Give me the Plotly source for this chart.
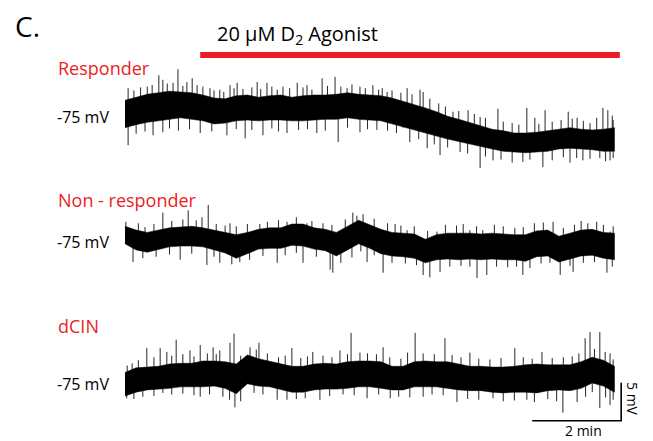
import numpy as np
import plotly.graph_objects as go

# ---------------- data (time in min, membrane potential in mV) ----------------
t_env = [0, 0.25, 0.5, 0.75, 1.0, 1.25, 1.5, 1.75, 2.0, 2.25, 2.5, 2.75, 3.0, 3.25, 3.5,
         3.75, 4.0, 4.25, 4.5, 4.75, 5.0, 5.25, 5.5, 5.75, 6.0, 6.25, 6.5, 6.75, 7.0, 7.25,
         7.5, 7.75, 8.0, 8.25, 8.5, 8.75, 9.0, 9.25, 9.5, 9.75, 10.0, 10.25, 10.5, 10.75, 11.0]

# Responder: upper / lower edge of the dense trace
resp_hi = [-73.2, -72.8, -72.4, -72.2, -72.0, -72.1, -72.2, -72.5, -72.9, -73.0, -72.6, -72.5,
           -72.8, -72.6, -72.5, -72.8, -72.6, -72.5, -72.5, -72.4, -72.2, -72.4, -72.5, -72.6,
           -72.9, -73.3, -73.7, -74.2, -74.7, -75.3, -75.7, -76.1, -76.6, -77.0, -77.2, -77.5,
           -77.5, -77.4, -77.2, -77.0, -76.8, -77.0, -77.1, -77.0, -76.8]
resp_lo = [-76.8, -76.4, -76.1, -75.9, -75.7, -75.5, -75.7, -75.9, -76.3, -76.2, -75.9, -75.8,
           -75.9, -75.8, -75.8, -75.9, -75.9, -75.8, -75.7, -75.7, -75.5, -75.7, -75.8, -75.9,
           -76.2, -76.6, -77.0, -77.5, -77.9, -78.3, -78.7, -79.0, -79.3, -79.6, -79.9, -80.0,
           -80.1, -80.0, -79.9, -79.6, -79.5, -79.6, -79.7, -79.9, -79.9]
resp_spk_t = [0.07, 0.61, 0.76, 0.85, 1.08, 1.19, 1.39, 1.51, 1.75, 1.91, 2.13, 2.36, 2.52, 2.97,
              3.19, 3.55, 3.87, 4.09, 4.43, 4.72, 4.99, 5.28, 5.57, 5.78, 5.89, 6.34, 6.63, 6.70,
              7.37, 7.71, 7.98, 8.38, 9.03, 9.21, 9.44, 9.96, 10.16, 10.45, 10.74, 10.85, 10.97,
              0.2, 0.35, 0.5, 0.95, 1.3, 1.62, 2.0, 2.22, 2.45, 2.65, 2.85, 3.05, 3.3, 3.42, 3.7,
              4.0, 4.2, 4.55, 4.85, 5.1, 5.4, 5.7, 6.0, 6.2, 6.45, 6.85, 7.05, 7.2, 7.5, 7.85,
              8.1, 8.5, 8.7, 8.85, 9.3, 9.6, 9.8, 10.05, 10.3, 10.6, 10.95,
              0.07, 0.63, 0.85, 1.69, 2.29, 2.70, 3.10, 3.64, 4.31, 4.79, 5.28, 5.66, 6.25, 6.40,
              6.79, 7.08, 7.53, 7.98, 8.27, 8.94, 9.39, 10.0, 10.29, 10.67, 10.90, 10.97,
              0.25, 0.45, 1.0, 1.2, 1.45, 1.95, 2.5, 2.85, 3.3, 3.45, 3.9, 4.1, 4.5, 5.0, 5.45,
              5.9, 6.1, 6.6, 6.95, 7.25, 7.7, 8.1, 8.45, 8.7, 9.1, 9.6, 9.85, 10.15, 10.45, 10.8]
resp_spk_v = [-71.6, -71.2, -69.9, -70.5, -70.9, -69.1, -70.8, -70.3, -71.4, -71.6, -71.8, -71.2,
              -70.9, -70.8, -70.9, -71.4, -70.9, -71.2, -70.3, -70.1, -71.6, -71.4, -71.2, -71.6,
              -72.1, -71.6, -71.8, -72.1, -74.7, -74.5, -75.4, -74.3, -74.2, -75.5, -74.5, -74.7,
              -75.5, -76.2, -74.2, -74.5, -75.8,
              -71.9, -71.5, -71.4, -71.0, -71.3, -71.2, -71.9, -72.1, -71.6, -71.7, -71.5, -71.7,
              -71.4, -71.8, -71.6, -71.5, -71.8, -71.3, -71.4, -71.1, -71.6, -71.8, -71.9, -72.2,
              -72.4, -73.0, -73.6, -74.0, -74.6, -75.0, -75.5, -76.0, -76.2, -76.4, -76.3, -76.0,
              -75.8, -75.6, -75.9, -75.5, -75.2,
              -79.1, -77.8, -77.4, -77.5, -77.8, -78.2, -77.8, -77.5, -77.5, -78.7, -77.4, -77.1,
              -76.8, -78.7, -79.5, -80.4, -80.0, -82.1, -81.1, -81.3, -82.0, -81.4, -81.1, -80.8,
              -81.1, -80.8,
              -77.6, -77.3, -76.9, -77.2, -77.0, -77.3, -77.0, -77.1, -76.9, -77.3, -77.1, -77.0,
              -77.2, -76.8, -77.0, -77.2, -77.5, -78.3, -79.0, -79.4, -80.2, -80.6, -81.0, -81.4,
              -81.0, -81.1, -80.7, -80.8, -80.9, -81.2]

# Non-responder
nonr_hi = [-73.2, -73.7, -74.0, -73.7, -73.4, -73.3, -73.2, -73.4, -73.7, -74.0, -74.3, -74.0,
           -73.6, -73.4, -73.4, -72.9, -72.9, -73.4, -73.6, -74.0, -73.2, -72.4, -73.0, -73.6,
           -74.0, -74.1, -74.2, -74.9, -74.3, -74.1, -74.1, -74.1, -74.2, -74.1, -74.2, -74.3,
           -74.3, -73.8, -73.7, -74.5, -74.1, -73.7, -73.6, -74.0, -74.1]
nonr_lo = [-75.5, -76.3, -76.6, -76.2, -75.9, -75.8, -75.8, -75.9, -76.3, -76.7, -77.4, -76.8,
           -76.2, -76.1, -76.1, -75.7, -75.8, -76.2, -76.4, -77.1, -76.3, -75.5, -76.1, -76.8,
           -77.1, -77.2, -77.4, -78.0, -77.6, -77.5, -77.6, -77.5, -77.6, -77.5, -77.6, -77.6,
           -77.8, -77.2, -77.1, -77.9, -77.5, -77.1, -77.0, -77.4, -77.6]
nonr_spk_t = [0.02, 0.45, 0.85, 1.42, 1.73, 1.87, 2.36, 3.03, 3.64, 4.09, 4.45, 5.12, 5.21, 6.07,
              6.34, 7.01, 7.75, 8.04, 8.76, 9.62, 10.40, 10.90,
              0.3, 0.65, 1.05, 1.3, 1.6, 2.05, 2.25, 2.5, 2.75, 3.2, 3.45, 3.85, 4.2, 4.65, 4.95,
              5.35, 5.6, 5.9, 6.2, 6.5, 6.8, 7.2, 7.45, 7.6, 7.9, 8.3, 8.5, 8.95, 9.2, 9.4, 9.85,
              10.1, 10.25, 10.6, 10.75, 10.97,
              0.18, 1.24, 1.84, 2.13, 2.58, 3.42, 4.0, 4.61, 4.67, 5.44, 5.80, 6.70, 6.85, 7.08,
              7.91, 8.13, 8.94, 9.78, 10.07, 10.83,
              0.4, 0.7, 1.0, 1.5, 2.0, 2.4, 2.8, 3.1, 3.6, 3.85, 4.3, 4.85, 5.1, 5.3, 5.6, 6.0,
              6.3, 6.55, 7.3, 7.55, 7.75, 8.35, 8.6, 8.8, 9.1, 9.35, 9.55, 10.0, 10.3, 10.55,
              10.95]
nonr_spk_v = [-72.6, -73.3, -71.4, -71.1, -72.0, -70.4, -72.8, -72.9, -72.6, -72.8, -72.8, -71.4,
              -71.8, -72.9, -73.7, -73.9, -73.7, -73.7, -73.4, -72.6, -72.8, -73.9,
              -72.8, -72.9, -72.5, -72.3, -72.4, -72.9, -73.1, -73.2, -72.9, -72.6, -72.4, -72.0,
              -72.5, -73.0, -72.3, -71.6, -72.2, -72.8, -73.1, -73.2, -73.8, -73.0, -73.1, -72.9,
              -73.2, -73.0, -73.2, -73.3, -72.8, -72.7, -73.4, -73.0, -72.5, -72.6, -73.0, -73.2,
              -77.9, -77.6, -78.3, -78.0, -77.9, -78.0, -78.0, -78.9, -79.3, -77.9, -79.3, -79.6,
              -79.9, -79.2, -80.0, -79.6, -79.6, -79.6, -79.2, -79.3,
              -77.4, -77.2, -76.9, -76.8, -77.2, -78.2, -77.6, -77.1, -77.0, -76.7, -77.2, -78.0,
              -77.3, -76.5, -77.0, -78.0, -78.1, -78.3, -78.5, -78.4, -78.5, -78.5, -78.6, -78.5,
              -78.7, -78.1, -78.0, -78.4, -78.0, -77.9, -78.5]

# dCIN
dcin_hi = [-74.0, -73.4, -73.3, -73.2, -72.9, -72.8, -72.8, -72.5, -72.5, -72.6, -72.9, -71.7,
           -72.2, -72.5, -72.9, -73.2, -73.2, -72.9, -72.8, -72.9, -72.6, -72.5, -72.5, -72.6,
           -73.2, -73.2, -72.6, -72.5, -72.6, -72.6, -72.9, -73.2, -73.2, -73.3, -73.3, -73.2,
           -73.0, -72.9, -73.0, -73.0, -73.0, -72.6, -72.0, -72.4, -73.2]
dcin_lo = [-77.1, -76.6, -76.3, -76.2, -76.1, -75.9, -75.9, -75.9, -75.8, -76.1, -76.8, -75.5,
           -75.8, -75.9, -76.3, -76.6, -76.6, -76.3, -76.2, -76.2, -76.1, -75.9, -75.9, -76.1,
           -76.3, -76.3, -75.9, -75.9, -75.9, -76.1, -76.3, -76.4, -76.4, -76.6, -76.7, -76.6,
           -76.6, -76.7, -76.4, -76.3, -76.4, -76.1, -75.4, -75.8, -76.6]
dcin_spk_t = [0.16, 0.49, 0.79, 0.94, 1.15, 1.46, 1.69, 1.98, 2.13, 2.36, 2.45, 2.81, 3.01, 3.75,
              4.22, 4.83, 5.08, 5.28, 5.80, 6.52, 7.19, 7.75, 8.76, 9.37, 10.34, 10.45, 10.67,
              10.79,
              0.05, 0.3, 0.65, 1.05, 1.3, 1.55, 1.85, 2.05, 2.6, 2.95, 3.2, 3.45, 3.6, 3.95, 4.1,
              4.45, 4.65, 5.0, 5.45, 5.65, 5.95, 6.2, 6.35, 6.7, 6.95, 7.35, 7.55, 7.95, 8.2,
              8.45, 8.95, 9.15, 9.6, 9.85, 10.05, 10.2, 10.55, 10.9, 10.97,
              0.04, 0.85, 1.69, 2.20, 2.47, 3.42, 3.64, 4.38, 5.44, 5.96, 6.70, 7.46, 8.27, 9.03,
              9.84, 10.16, 10.67, 10.90,
              0.2, 0.4, 0.65, 1.05, 1.3, 1.55, 1.9, 2.35, 2.6, 2.9, 3.1, 3.85, 4.05, 4.6, 4.9,
              5.15, 5.7, 6.15, 6.4, 6.9, 7.15, 7.7, 7.95, 8.5, 8.75, 9.2, 9.5, 9.7, 10.35, 10.5,
              10.8, 10.97]
dcin_spk_v = [-72.8, -70.8, -70.8, -71.3, -69.7, -71.1, -70.4, -70.7, -71.1, -70.1, -68.9, -70.7,
              -70.1, -70.8, -71.3, -71.1, -68.8, -71.4, -70.7, -68.8, -69.5, -71.4, -70.8, -71.3,
              -69.5, -68.7, -68.7, -71.3,
              -73.1, -72.4, -72.0, -71.8, -71.6, -71.9, -71.5, -71.6, -71.8, -71.0, -71.5, -72.0,
              -71.8, -72.1, -71.9, -71.8, -72.0, -71.6, -71.5, -71.6, -72.0, -72.2, -71.4, -71.5,
              -71.6, -71.7, -72.0, -72.2, -72.3, -72.1, -72.0, -72.2, -72.1, -72.0, -71.9, -71.5,
              -70.9, -71.5, -72.3,
              -77.4, -76.7, -77.2, -77.2, -78.6, -77.6, -77.6, -77.6, -77.4, -77.4, -77.2, -77.9,
              -77.4, -77.6, -79.3, -77.9, -78.7, -78.3,
              -77.5, -77.2, -77.1, -76.9, -76.8, -77.0, -76.9, -77.6, -77.8, -76.7, -76.9, -77.5,
              -77.4, -77.1, -76.9, -77.0, -76.9, -77.2, -77.3, -76.9, -77.0, -77.5, -77.6, -77.8,
              -77.7, -77.9, -77.5, -77.8, -77.2, -76.6, -77.3, -77.6]

agonist_start, agonist_end = 1.69, 11.12   # min
scale_t, scale_v = 2, 5                    # 2 min, 5 mV
scale_corner_t, scale_corner_v = 11.15, -80.36

# ---------------- figure ----------------
W, H = 653, 441
RED = "#ed1c24"
FONT = "Open Sans"

fig = go.Figure()


def add_trace(hi, lo, st, sv, yref):
    t = list(t_env)
    fig.add_trace(go.Scatter(x=t + t[::-1], y=list(hi) + list(lo)[::-1], fill="toself",
                             fillcolor="black", mode="lines",
                             line=dict(color="black", width=0.5),
                             yaxis=yref, hoverinfo="skip", showlegend=False))
    mid = (np.array(hi) + np.array(lo)) / 2
    xs, ys = [], []
    for tt, vv in zip(st, sv):
        b = float(np.interp(tt, t_env, mid))
        xs += [tt, tt, None]
        ys += [b, vv, None]
    fig.add_trace(go.Scatter(x=xs, y=ys, mode="lines",
                             line=dict(color="rgba(0,0,0,0.85)", width=1),
                             yaxis=yref, hoverinfo="skip", showlegend=False))


add_trace(resp_hi, resp_lo, resp_spk_t, resp_spk_v, "y")
add_trace(nonr_hi, nonr_lo, nonr_spk_t, nonr_spk_v, "y2")
add_trace(dcin_hi, dcin_lo, dcin_spk_t, dcin_spk_v, "y3")

# scale bar
fig.add_trace(go.Scatter(x=[scale_corner_t - scale_t, scale_corner_t, scale_corner_t],
                         y=[scale_corner_v, scale_corner_v, scale_corner_v + scale_v],
                         mode="lines", line=dict(color="black", width=1.6), yaxis="y3",
                         hoverinfo="skip", showlegend=False))

PX_MIN, PX_MV, X0 = 44.5, 7.6, 125


def yax(top_px, bot_px, base_px):
    return dict(domain=[1 - bot_px / H, 1 - top_px / H],
                range=[-75 - (bot_px - base_px) / PX_MV, -75 + (base_px - top_px) / PX_MV],
                visible=False, anchor="x", fixedrange=True)


fig.update_layout(
    width=W, height=H, margin=dict(l=0, r=0, t=0, b=0),
    paper_bgcolor="white", plot_bgcolor="white",
    xaxis=dict(range=[-X0 / PX_MIN, (W - X0) / PX_MIN], visible=False, domain=[0, 1],
               fixedrange=True),
    yaxis=yax(60, 180, 114),
    yaxis2=yax(195, 290, 240),
    yaxis3=yax(310, 441, 380),
    showlegend=False,
)

# agonist bar
fig.add_shape(type="line", xref="x", yref="paper", x0=agonist_start, x1=agonist_end,
              y0=1 - 55 / H, y1=1 - 55 / H, line=dict(color=RED, width=6))


def ann(text, x, y, size, color="black", xanchor="left", angle=0):
    fig.add_annotation(text=text, x=x / W, y=1 - y / H, xref="paper", yref="paper",
                       showarrow=False, xanchor=xanchor, yanchor="middle", textangle=angle,
                       font=dict(family=FONT, size=size, color=color))


ann("C.", 13, 26, 28)
ann("20 \u03bcM D<sub>2</sub> Agonist", 215, 35, 20)
ann("Responder", 56, 68, 18, RED)
ann("Non - responder", 56, 200, 18, RED)
ann("dCIN", 56, 326, 18, RED)
for yy in (117, 242, 384):
    ann("-75 mV", 55, yy, 16)
ann("2 min", 583, 430, 14, xanchor="center")
ann("5 mV", 633, 399, 14, xanchor="center", angle=90)

fig.write_html("out.html", config={"displayModeBar": False},
               post_script="document.body.style.margin='0';")
